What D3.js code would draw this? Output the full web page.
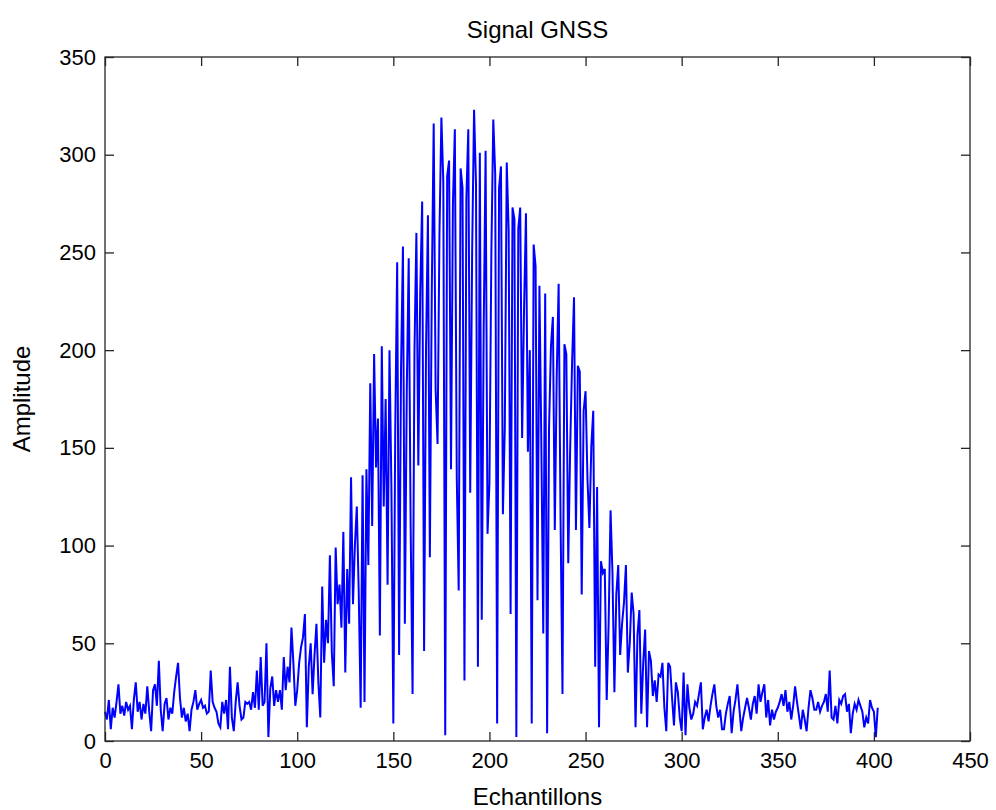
<!DOCTYPE html>
<html>
<head>
<meta charset="utf-8">
<script src="https://d3js.org/d3.v7.min.js"></script>
<style>
  body { margin: 0; background: #fff; }
  text { font-family: Arial, "Liberation Sans", sans-serif; fill: #000; }
</style>
</head>
<body>
<div id="chart"></div>
<script>
// amplitude of each sample (sample 0 .. 402)
const amplitude = [
  15, 11, 21, 6, 17, 12, 20, 29, 14, 18,
  13, 20, 16, 18, 6, 21, 30, 15, 20, 11,
  19, 14, 28, 15, 5, 26, 29, 18, 41, 16,
  5, 19, 22, 11, 17, 14, 25, 33, 40, 22,
  12, 17, 10, 14, 5, 16, 20, 26, 16, 19,
  21, 17, 18, 14, 15, 36, 20, 17, 15, 9,
  7, 20, 14, 21, 6, 38, 12, 5, 20, 30,
  18, 11, 12, 20, 19, 20, 16, 25, 17, 36,
  16, 43, 18, 20, 50, 2, 27, 33, 18, 26,
  20, 26, 16, 43, 26, 38, 30, 58, 40, 18,
  26, 40, 48, 53, 65, 7, 38, 50, 24, 44,
  60, 30, 12, 79, 40, 62, 50, 95, 45, 28,
  99, 70, 80, 58, 107, 35, 88, 60, 135, 70,
  100, 120, 76, 17, 136, 20, 139, 90, 183, 110,
  198, 140, 165, 54, 202, 120, 175, 80, 200, 130,
  9, 160, 245, 44, 190, 253, 60, 180, 247, 110,
  24, 200, 260, 141, 230, 276, 46, 200, 269, 94,
  230, 316, 180, 152, 260, 319, 286, 3, 289, 297,
  139, 275, 313, 135, 77, 293, 283, 31, 278, 313,
  127, 250, 323, 285, 38, 301, 62, 210, 302, 106,
  132, 250, 318, 290, 9, 283, 294, 116, 161, 296,
  261, 65, 273, 267, 2, 262, 273, 155, 221, 270,
  148, 200, 9, 254, 243, 72, 233, 152, 55, 229,
  4, 160, 202, 217, 108, 187, 234, 113, 24, 203,
  198, 91, 150, 194, 227, 108, 192, 189, 75, 169,
  179, 134, 109, 151, 169, 38, 130, 7, 92, 86,
  88, 21, 60, 118, 86, 25, 75, 90, 44, 60,
  71, 90, 35, 50, 76, 65, 7, 54, 67, 14,
  40, 57, 7, 46, 41, 23, 31, 20, 34, 33,
  40, 17, 5, 40, 38, 22, 8, 30, 25, 12,
  5, 35, 3, 29, 17, 11, 14, 20, 18, 24,
  30, 6, 12, 16, 10, 18, 24, 29, 18, 12,
  16, 6, 6, 14, 19, 23, 4, 15, 21, 29,
  17, 5, 12, 17, 22, 17, 11, 19, 23, 14,
  29, 20, 25, 29, 12, 21, 8, 16, 11, 15,
  17, 20, 24, 18, 26, 15, 20, 11, 18, 28,
  20, 13, 6, 16, 11, 5, 17, 26, 22, 16,
  16, 20, 15, 18, 20, 24, 15, 36, 12, 11,
  18, 9, 21, 19, 23, 24, 15, 19, 4, 14,
  19, 16, 21, 18, 15, 7, 12, 9, 21, 17,
  15, 2, 17
];
const xTicks = [0, 50, 100, 150, 200, 250, 300, 350, 400, 450];
const yTicks = [0, 50, 100, 150, 200, 250, 300, 350];
const titleText = "Signal GNSS";
const xLabelText = "Echantillons";
const yLabelText = "Amplitude";

let margin = { top: 57, left: 105, right: 26, bottom: 69 },
    width = 996 - margin.left - margin.right,
    height = 810 - margin.top - margin.bottom;

let svg = d3.select("#chart")
  .append("svg")
    .attr("width", 996)
    .attr("height", 810);

let g = svg.append("g")
  .attr("transform", "translate(" + margin.left + "," + margin.top + ")");

let xScale = d3.scaleLinear().domain([0, 450]).range([0, width]);
let yScale = d3.scaleLinear().domain([0, 350]).range([height, 0]);

let line = d3.line()
  .x((d, i) => xScale(i))
  .y(d => yScale(d));

g.append("path")
  .datum(amplitude)
  .attr("fill", "none")
  .attr("stroke", "#0000ff")
  .attr("stroke-width", 2)
  .attr("d", line);

// axes, ticks pointing inward on all four sides
let tick = 9;
g.append("g")
  .attr("transform", "translate(0," + height + ")")
  .call(d3.axisBottom(xScale).tickValues(xTicks).tickSize(-tick).tickPadding(11));
g.append("g")
  .call(d3.axisTop(xScale).tickValues(xTicks).tickSize(-tick).tickFormat(""));
g.append("g")
  .call(d3.axisLeft(yScale).tickValues(yTicks).tickSize(-tick).tickPadding(9));
g.append("g")
  .attr("transform", "translate(" + width + ",0)")
  .call(d3.axisRight(yScale).tickValues(yTicks).tickSize(-tick).tickFormat(""));

g.selectAll(".domain").remove();
g.selectAll(".tick line").attr("stroke", "#262626").attr("stroke-width", 1.3);
g.selectAll(".tick text").style("font-size", "22px").attr("fill", "#000");

g.append("rect")
  .attr("width", width)
  .attr("height", height)
  .attr("fill", "none")
  .attr("stroke", "#262626")
  .attr("stroke-width", 1.3);

svg.append("text")
  .attr("x", margin.left + width / 2)
  .attr("y", 38)
  .attr("text-anchor", "middle")
  .style("font-size", "24px")
  .text(titleText);

svg.append("text")
  .attr("x", margin.left + width / 2)
  .attr("y", 805)
  .attr("text-anchor", "middle")
  .style("font-size", "24px")
  .text(xLabelText);

svg.append("text")
  .attr("transform", "translate(30," + (margin.top + height / 2) + ") rotate(-90)")
  .attr("text-anchor", "middle")
  .style("font-size", "24px")
  .text(yLabelText);
</script>
</body>
</html>
